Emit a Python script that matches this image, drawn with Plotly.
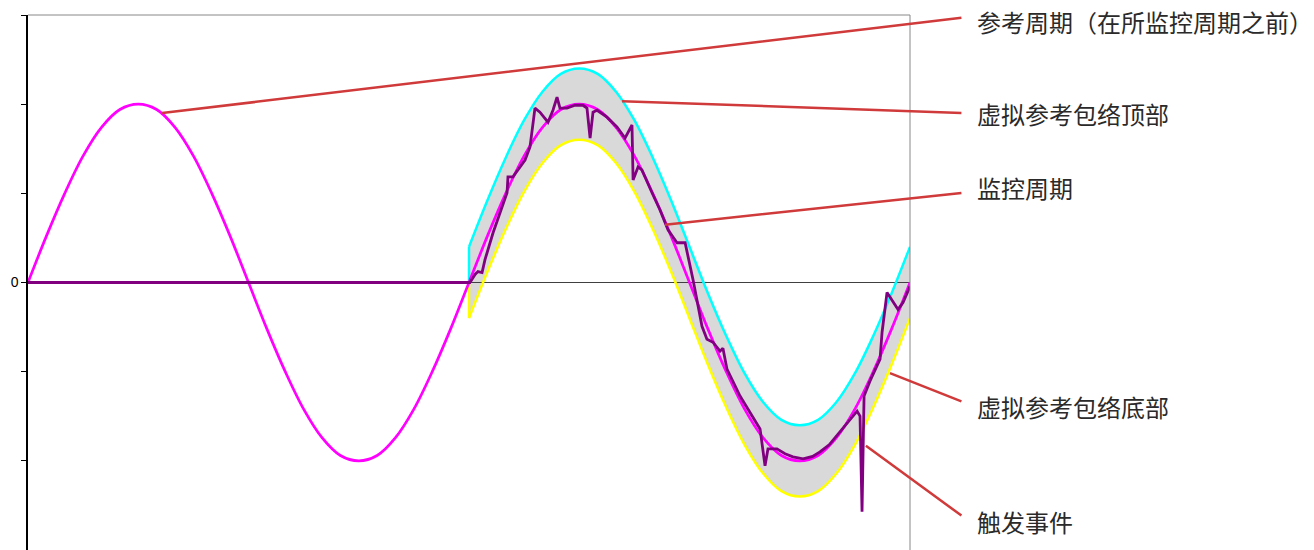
import plotly.graph_objects as go

# reference curve (magenta), sampled every 15 degrees, two full periods
ref_x = list(range(49))
ref_y = [0, 0.26, 0.5, 0.71, 0.87, 0.97, 1, 0.97, 0.87, 0.71, 0.5, 0.26,
         0, -0.26, -0.5, -0.71, -0.87, -0.97, -1, -0.97, -0.87, -0.71, -0.5, -0.26,
         0, 0.26, 0.5, 0.71, 0.87, 0.97, 1, 0.97, 0.87, 0.71, 0.5, 0.26,
         0, -0.26, -0.5, -0.71, -0.87, -0.97, -1, -0.97, -0.87, -0.71, -0.5, -0.26, 0]

# virtual reference envelope (monitored period only)
env_x = list(range(24, 49))
env_top = [0.2, 0.46, 0.7, 0.91, 1.07, 1.17, 1.2, 1.17, 1.07, 0.91, 0.7, 0.46,
           0.2, -0.06, -0.3, -0.51, -0.67, -0.77, -0.8, -0.77, -0.67, -0.51, -0.3, -0.06, 0.2]
env_bot = [-0.2, 0.06, 0.3, 0.51, 0.67, 0.77, 0.8, 0.77, 0.67, 0.51, 0.3, 0.06,
           -0.2, -0.46, -0.7, -0.91, -1.07, -1.17, -1.2, -1.17, -1.07, -0.91, -0.7, -0.46, -0.2]
env_start = 0  # envelope rises from the zero line at the start of monitoring

# monitored signal (purple)
mon_x = [0, 24.05, 24.33, 24.49, 24.71, 24.87, 25.31, 25.8, 26.07, 26.12, 26.39, 27.05,
         27.32, 27.59, 27.86, 28.3, 28.57, 28.79, 28.95, 29.33, 29.77, 30.2, 30.42, 30.59,
         30.75, 30.97, 31.51, 32.05, 32.49, 32.87, 32.93, 33.2, 33.41, 33.96, 34.39, 34.83,
         35.32, 35.76, 36.19, 36.68, 36.95, 37.28, 37.66, 37.82, 38.04, 38.75, 39.3, 39.84,
         40.11, 40.27, 40.76, 41.2, 41.63, 42.18, 42.7, 43.1, 43.6, 44.19, 44.7, 45.12,
         45.28, 45.39, 45.5, 45.82, 46.37, 46.48, 46.75, 47.35, 47.62, 48]
mon_y = [0, 0, 0.045, 0.061, 0.056, 0.128, 0.279, 0.425, 0.503, 0.592, 0.592, 0.687,
         0.76, 0.978, 0.955, 0.899, 0.966, 1.039, 0.978, 0.978, 0.994, 0.994, 0.978, 0.81,
         0.955, 0.966, 0.927, 0.872, 0.81, 0.883, 0.575, 0.648, 0.631, 0.503, 0.408, 0.296,
         0.223, 0.223, 0.017, -0.246, -0.318, -0.335, -0.385, -0.369, -0.486, -0.637, -0.73, -0.821,
         -1.028, -0.933, -0.933, -0.96, -0.978, -0.989, -0.975, -0.95, -0.91, -0.838, -0.77, -0.721,
         -0.749, -1.285, -0.637, -0.553, -0.43, -0.279, -0.056, -0.151, -0.112, -0.022]

# callouts: point on curve, label
call_x = [7.3, 32.33, 34.67, 46.91, 45.6]
call_y = [0.95, 1.017, 0.324, -0.508, -0.916]
tail_y = [1.486, 0.95, 0.503, -0.67, -1.313]
labels = ["参考周期（在所监控周期之前）", "虚拟参考包络顶部", "监控周期", "虚拟参考包络底部", "触发事件"]
label_y = [1.465, 0.95, 0.531, -0.693, -1.341]

fig = go.Figure()
fig.add_trace(go.Scatter(x=env_x, y=env_bot, mode="lines", line=dict(width=0, shape="spline"),
                         showlegend=False, hoverinfo="skip"))
fig.add_trace(go.Scatter(x=env_x, y=env_top, mode="lines", line=dict(width=0, shape="spline"),
                         fill="tonexty", fillcolor="#D9D9D9", showlegend=False, hoverinfo="skip"))
fig.add_trace(go.Scatter(x=[0, 48], y=[0, 0], mode="lines", line=dict(color="#404040", width=1),
                         showlegend=False))
fig.add_trace(go.Scatter(x=env_x, y=env_top, mode="lines", line=dict(color="#00FFFF", width=2.5, shape="spline"),
                         showlegend=False))
fig.add_trace(go.Scatter(x=[env_x[0], env_x[0]], y=[env_start, env_top[0]], mode="lines",
                         line=dict(color="#00FFFF", width=2.5), showlegend=False))
fig.add_trace(go.Scatter(x=env_x, y=env_bot, mode="lines", line=dict(color="#FFFF00", width=2.5, shape="spline"),
                         showlegend=False))
fig.add_trace(go.Scatter(x=[env_x[0], env_x[0]], y=[env_start, env_bot[0]], mode="lines",
                         line=dict(color="#FFFF00", width=2.5), showlegend=False))
fig.add_trace(go.Scatter(x=ref_x, y=ref_y, mode="lines", line=dict(color="#FF00FF", width=2.7, shape="spline"),
                         showlegend=False))
fig.add_trace(go.Scatter(x=mon_x, y=mon_y, mode="lines", line=dict(color="#800080", width=2.8),
                         showlegend=False))

for cx, cy, ty, lab, ly in zip(call_x, call_y, tail_y, labels, label_y):
    fig.add_annotation(x=cx, y=cy, ax=50.88, ay=ty, axref="x", ayref="y", text="",
                       showarrow=True, arrowhead=0, arrowwidth=2.5, arrowcolor="#D03A3A")
    fig.add_annotation(x=1.074, xref="paper", y=ly, text=lab, showarrow=False,
                       xanchor="left", yanchor="middle",
                       font=dict(family="Noto Sans CJK SC", size=24, color="#2a2a2a"))

# top and right border
fig.add_shape(type="line", xref="paper", yref="paper", x0=0, x1=1, y0=1, y1=1,
              line=dict(color="#888888", width=1))
fig.add_shape(type="line", xref="paper", yref="paper", x0=1, x1=1, y0=0, y1=1,
              line=dict(color="#888888", width=1))

fig.update_layout(
    width=1314, height=550,
    margin=dict(l=28, r=404, t=15, b=0),
    plot_bgcolor="white", paper_bgcolor="white",
    showlegend=False,
    xaxis=dict(range=[0, 48], showgrid=False, zeroline=False, showticklabels=False, showline=False,
               automargin=False),
    yaxis=dict(range=[-1.5, 1.5], showgrid=False, zeroline=False, showline=True, linecolor="black",
               linewidth=1.5, ticks="outside", ticklen=5, tickcolor="black", automargin=False,
               tickvals=[-1.5, -1, -0.5, 0, 0.5, 1, 1.5], ticktext=["", "", "", "0", "", "", ""],
               tickfont=dict(family="Liberation Sans", size=14, color="black")),
)

fig.write_html("out.html", config={"displayModeBar": False},
               post_script="document.body.style.margin='0px';document.body.style.overflow='hidden';")
